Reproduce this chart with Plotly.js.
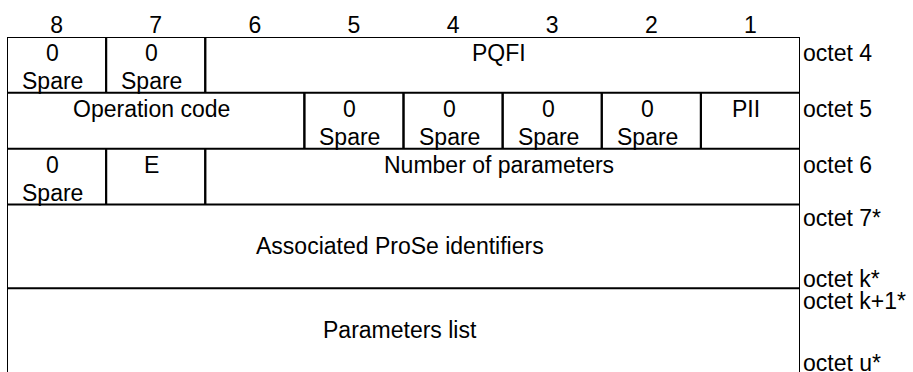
<!DOCTYPE html>
<html>
<head>
<meta charset="utf-8">
<script src="https://cdn.plot.ly/plotly-3.0.1.min.js"></script>
<style>
  html, body { margin: 0; padding: 0; background: #fff; }
  #chart { width: 913px; height: 372px; }
</style>
</head>
<body>
<div id="chart"></div>
<script>
// ---- data ----
var bitLabels = ['8', '7', '6', '5', '4', '3', '2', '1'];
var bitNumbers = [8, 7, 6, 5, 4, 3, 2, 1];

var rowOctets = [
  ['octet 4'],
  ['octet 5'],
  ['octet 6'],
  ['octet 7*', 'octet k*'],
  ['octet k+1*', 'octet u*']
];

var fieldText = [
  '0<br>Spare', '0<br>Spare', 'PQFI',
  'Operation code', '0<br>Spare', '0<br>Spare', '0<br>Spare', '0<br>Spare', 'PII',
  '0<br>Spare', 'E', 'Number of parameters',
  'Associated ProSe identifiers',
  'Parameters list'
];
var fieldRow  = [0, 0, 0, 1, 1, 1, 1, 1, 1, 2, 2, 2, 3, 4];
var fieldHigh = [8, 7, 6, 8, 5, 4, 3, 2, 1, 8, 7, 6, 8, 8];
var fieldLow  = [8, 7, 1, 6, 5, 4, 3, 2, 1, 8, 7, 1, 1, 1];

// ---- layout construction ----
var FONT = 'Arial, "Liberation Sans", sans-serif';
var FS = 23;
var LINE = {color: '#000', width: 2};
var LINE_GAP = 28;      // px between stacked text lines
var TOP_PAD = 16;       // px from row top to first text line centre
var TXT = {family: FONT, size: FS, color: '#000'};

// row extents: multi-octet rows are 1.5 units tall
var rowStart = [], rowEnd = [];
var acc = 0;
rowOctets.forEach(function (labels) {
  rowStart.push(acc);
  acc += labels.length > 1 ? 1.5 : 1;
  rowEnd.push(acc);
});
var total = acc;

var shapes = [];
var annotations = [];

// horizontal row boundaries (top of every row)
rowStart.forEach(function (y) {
  shapes.push({type: 'line', xref: 'x', yref: 'y', x0: 8.5, x1: 0.5, y0: y, y1: y, line: LINE});
});

// cells: vertical edges + labels
fieldText.forEach(function (txt, i) {
  var r = fieldRow[i];
  var xl = fieldHigh[i] + 0.5, xr = fieldLow[i] - 0.5;
  [xl, xr].forEach(function (x) {
    shapes.push({type: 'line', xref: 'x', yref: 'y', x0: x, x1: x, y0: rowStart[r], y1: rowEnd[r], line: LINE});
  });
  var multi = rowOctets[r].length > 1;
  var lines = txt.split('<br>');
  lines.forEach(function (ln, k) {
    annotations.push({
      xref: 'x', yref: 'y',
      x: (fieldHigh[i] + fieldLow[i]) / 2, xanchor: 'center', xshift: -4,
      y: multi ? (rowStart[r] + rowEnd[r]) / 2 : rowStart[r],
      yanchor: 'middle',
      yshift: multi ? 0 : -(TOP_PAD + k * LINE_GAP),
      text: ln, showarrow: false, font: TXT
    });
  });
});

// octet labels on the right
rowOctets.forEach(function (labels, r) {
  var multi = labels.length > 1;
  labels.forEach(function (lab, k) {
    var last = k === labels.length - 1 && multi;
    annotations.push({
      xref: 'paper', yref: 'y', x: 1, xanchor: 'left', xshift: 1,
      y: last ? rowEnd[r] : rowStart[r],
      yanchor: 'middle',
      yshift: last ? 9 : -(multi ? 13 : TOP_PAD),
      text: lab, showarrow: false, font: TXT
    });
  });
});

var layout = {
  width: 913, height: 372,
  margin: {l: 6.5, r: 112.5, t: 36.7, b: 0, pad: 0},
  paper_bgcolor: '#fff', plot_bgcolor: '#fff',
  showlegend: false,
  xaxis: {
    range: [8.5, 0.5], side: 'top',
    tickvals: bitNumbers, ticktext: bitLabels,
    showgrid: false, zeroline: false, showline: false, ticks: '',
    ticklabelstandoff: -2,
    tickfont: TXT,
    fixedrange: true
  },
  yaxis: {
    range: [total, 0],
    showgrid: false, zeroline: false, showline: false, showticklabels: false, ticks: '',
    fixedrange: true
  },
  shapes: shapes,
  annotations: annotations,
  font: TXT
};

Plotly.newPlot('chart', [{x: [], y: [], type: 'scatter', hoverinfo: 'skip'}], layout, {staticPlot: true, displayModeBar: false});
</script>
</body>
</html>
